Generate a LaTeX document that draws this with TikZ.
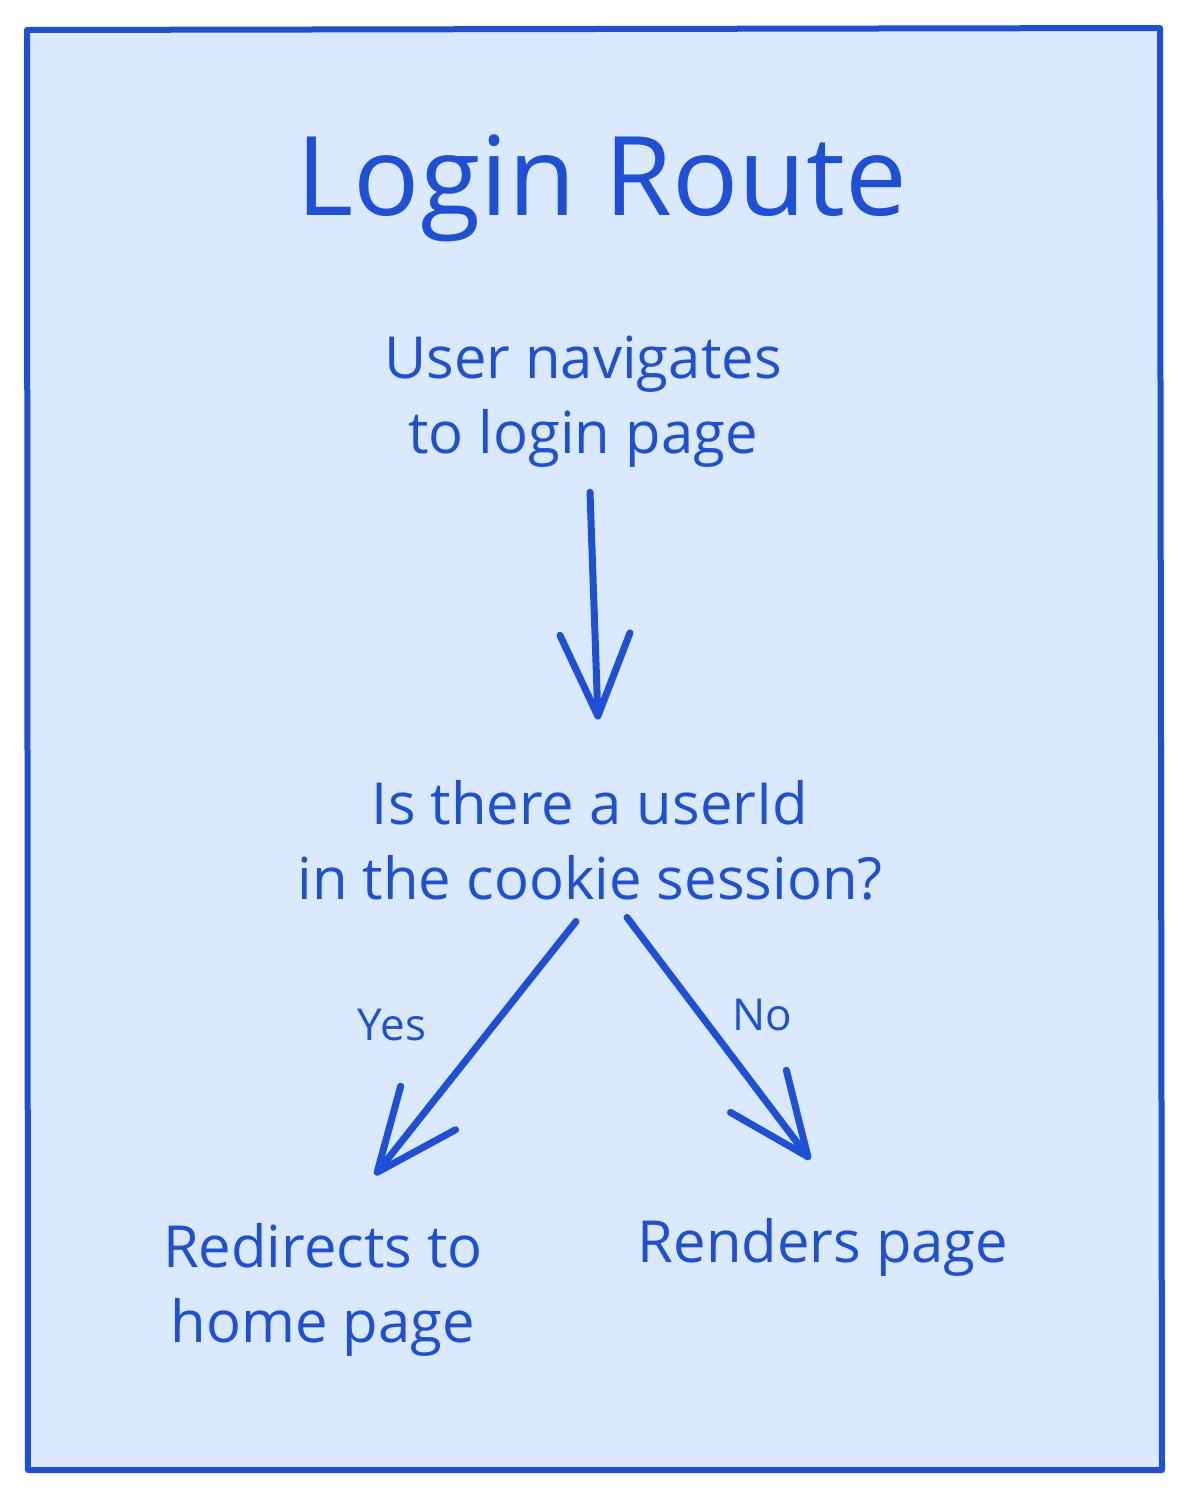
\documentclass[tikz,border=0pt]{standalone}
\usepackage{fontspec}
\setmainfont{Open Sans}
\usetikzlibrary{arrows.meta}
\definecolor{inkblue}{RGB}{30,80,215}
\definecolor{paperblue}{RGB}{219,233,254}
\begin{document}
\begin{tikzpicture}[x=1pt,y=-1pt,line width=7pt,line cap=round,line join=round,
  txt/.style={text=inkblue,inner sep=0pt,align=center,font=\fontsize{58}{75}\selectfont},
  lbl/.style={text=inkblue,inner sep=0pt,font=\fontsize{44}{50}\selectfont},
  flow/.style={draw=inkblue,-{Straight Barb[length=82pt,width=70pt,round]}}]
\path[use as bounding box] (0,0) rectangle (1190,1497);
\filldraw[draw=inkblue,fill=paperblue,line width=6pt] (27,30)--(1160,28)--(1162,1470)--(28,1470)--cycle;
\node[txt,font=\fontsize{110}{120}\selectfont] (title) at (602,188) {Login Route};
\node[txt] (nav) at (583,402) {User navigates\\to login page};
\node[txt] (q) at (590,840) {Is there a userId\\in the cookie session?};
\node[txt] (redir) at (323,1290) {Redirects to\\home page};
\node[txt] (render) at (823,1247) {Renders page};
\node[lbl] (yes) at (392,1025) {Yes};
\node[lbl] (no) at (762,1015) {No};
\draw[flow] ([xshift=7pt,yshift=-21pt]nav.south)--([xshift=8pt,yshift=57pt]q.north);
\draw[flow] ([xshift=-14pt,yshift=-18pt]q.south)--([xshift=52pt,yshift=45pt]redir.north);
\draw[flow] ([xshift=37pt,yshift=-14pt]q.south)--([xshift=-13pt,yshift=55pt]render.north);
\end{tikzpicture}
\end{document}
